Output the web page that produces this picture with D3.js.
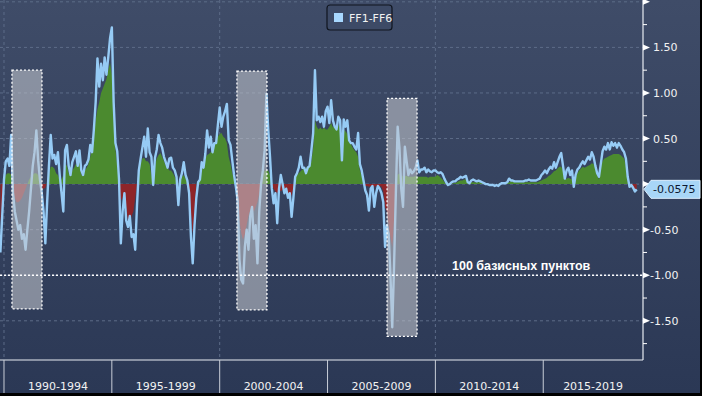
<!DOCTYPE html>
<html>
<head>
<meta charset="utf-8">
<script src="https://cdn.jsdelivr.net/npm/d3@7"></script>
<style>
  body { margin: 0; background: #000; }
  svg { display: block; }
</style>
</head>
<body>
<div id="chart"></div>
<script>
// monthly FF1-FF6 spread, Nov 1989 .. May 2019
var startYear = 1989, startMonth = 10;
var ffLine = [
  -0.75, -0.35,
  0.05, 0.25, 0.28, 0.2, 0.54, -0.1, -0.3, -0.4, -0.5, -0.45, -0.6, -0.55,
  -0.72, -0.5, -0.3, -0.05, 0.2, 0.35, 0.59, 0.26, 0.05, -0.1, -0.3, -0.65,
  -0.2, 0.2, 0.54, 0.28, 0.32, 0.22, 0.35, 0.1, -0.1, -0.3, 0.37, 0.43,
  0.2, 0.1, 0.24, 0.3, 0.36, 0.2, 0.37, 0.15, 0.1, 0.2, 0.22, 0.27,
  0.43, 0.35, 0.6, 0.9, 1.38, 1.07, 1.32, 1.14, 1.39, 1.2, 1.39, 1.6,
  1.72, 0.9, 0.45, 0.36, 0.05, -0.65, -0.3, -0.1, -0.4, -0.47, -0.35, -0.58,
  -0.55, -0.72, -0.23, 0.15, 0.28, 0.4, 0.52, 0.3, 0.61, 0.35, 0.3, -0.01,
  0.29, 0.38, 0.54, 0.45, 0.4, 0.3, 0.24, 0.18, 0.28, 0.29, 0.18, 0.15,
  0.08, -0.23, 0.05, 0.12, 0.24, 0.1, 0.04, -0.1, -0.58, -0.87, -0.45, -0.15,
  0.02, 0.05, 0.24, 0.18, 0.33, 0.59, 0.4, 0.52, 0.35, 0.45, 0.45, 0.65,
  0.84, 0.63, 0.74, 0.8, 0.88, 0.48, 0.43, 0.26, 0.1, -0.03, -0.18, -0.83,
  -1.05, -1.09, -0.69, -0.5, -0.72, -0.35, -0.25, -0.6, -0.45, -0.87, -0.3, 0.0,
  0.15, 0.37, 0.99, 0.6, 0.3, -0.05, -0.21, -0.1, -0.43, -0.05, 0.1, 0.0,
  -0.1, -0.05, -0.15, -0.1, -0.36, -0.15, 0.08, 0.12, 0.18, 0.3, 0.18, 0.18,
  0.12, 0.18, 0.2, 0.37, 0.56, 1.25, 0.7, 0.74, 0.68, 0.74, 0.63, 0.8,
  0.85, 0.67, 0.92, 0.7, 0.63, 0.6, 0.74, 0.7, 0.26, 0.71, 0.63, 0.7,
  0.48, 0.45, 0.45, 0.41, 0.38, 0.56, 0.22, 0.15, 0.04, -0.07, -0.12, -0.29,
  -0.05, -0.02, -0.25, -0.1, -0.02, -0.05, -0.1, -0.2, -0.69, -0.45, -0.55, -1.0,
  -1.57, -0.9, -0.1, 0.63, 0.4, -0.05, -0.25, 0.41, 0.25, 0.1, 0.16, 0.12,
  0.14, 0.18, 0.26, 0.13, 0.16, 0.16, 0.18, 0.13, 0.16, 0.14, 0.13, 0.15,
  0.15, 0.13, 0.12, 0.13, 0.11, 0.06, 0.02, -0.01, 0.0, 0.02, 0.03, 0.03,
  0.05, 0.06, 0.08, 0.07, 0.08, 0.09, 0.02, 0.01, 0.04, 0.05, 0.04, 0.03,
  0.04, 0.03, 0.02, 0.01, 0.0, 0.0, -0.01, -0.01, -0.01, -0.02, -0.01, -0.02,
  0.0, 0.01, 0.01, 0.01, 0.02, 0.06, 0.04, 0.04, 0.03, 0.03, 0.03, 0.03,
  0.03, 0.03, 0.04, 0.04, 0.05, 0.04, 0.04, 0.04, 0.04, 0.05, 0.06, 0.1,
  0.12, 0.15, 0.12, 0.16, 0.19, 0.17, 0.24, 0.18, 0.24, 0.3, 0.34, 0.2,
  0.06, 0.15, 0.18, 0.1, 0.15, -0.03, 0.1, 0.16, 0.18, 0.22, 0.25, 0.22,
  0.26, 0.3, 0.27, 0.35, 0.3, 0.2, 0.12, 0.08, 0.22, 0.36, 0.41, 0.38,
  0.45, 0.38, 0.46, 0.42, 0.45, 0.4, 0.45, 0.42, 0.38, 0.35, 0.28, 0.08,
  -0.03, -0.01, -0.04, -0.08, -0.0575
];
// smoother series drawn as green / red fill
var ffFill = [
  -0.43, -0.2,
  0.05, 0.1, 0.12, 0.12, 0.1, -0.05, -0.15, -0.2, -0.2, -0.18, -0.15, -0.1,
  -0.05, 0.0, 0.05, 0.08, 0.1, 0.12, 0.12, 0.1, 0.02, -0.05, -0.05, -0.04,
  0.02, 0.1, 0.19, 0.19, 0.17, 0.12, 0.1, 0.05, 0.05, 0.1, 0.22, 0.2,
  0.12, 0.08, 0.15, 0.18, 0.22, 0.2, 0.24, 0.1, 0.1, 0.15, 0.18, 0.22,
  0.3, 0.4, 0.55, 0.7, 0.82, 0.9, 1.0, 1.05, 1.1, 1.15, 1.25, 1.33,
  1.2, 0.8, 0.38, 0.2, 0.05, -0.18, -0.15, -0.1, -0.25, -0.4, -0.42, -0.35,
  -0.3, -0.15, 0.0, 0.18, 0.22, 0.28, 0.29, 0.25, 0.25, 0.22, 0.1, 0.03,
  0.2, 0.28, 0.32, 0.34, 0.3, 0.25, 0.2, 0.18, 0.15, 0.15, 0.12, 0.08,
  0.02, 0.0, 0.05, 0.08, 0.1, 0.06, 0.03, -0.05, -0.3, -0.54, -0.3, 0.0,
  0.02, 0.05, 0.15, 0.2, 0.28, 0.32, 0.33, 0.35, 0.38, 0.42, 0.48, 0.52,
  0.55, 0.56, 0.52, 0.5, 0.45, 0.3, 0.22, 0.12, 0.05, 0.0, -0.1, -0.4,
  -0.54, -0.61, -0.55, -0.45, -0.35, -0.29, -0.25, -0.3, -0.25, -0.2, -0.1, -0.05,
  0.1, 0.15, 0.15, 0.15, 0.1, 0.0, -0.05, -0.08, -0.1, -0.05, -0.08, -0.06,
  -0.1, -0.06, -0.14, -0.15, -0.12, -0.05, 0.08, 0.1, 0.12, 0.14, 0.16, 0.17,
  0.18, 0.19, 0.2, 0.25, 0.4, 0.7, 0.63, 0.6, 0.62, 0.6, 0.62, 0.6,
  0.6, 0.63, 0.67, 0.62, 0.64, 0.62, 0.65, 0.6, 0.3, 0.6, 0.58, 0.55,
  0.48, 0.44, 0.4, 0.37, 0.35, 0.3, 0.15, 0.1, 0.02, -0.02, -0.02, -0.03,
  -0.02, -0.02, -0.03, -0.02, -0.02, -0.02, -0.03, -0.08, -0.25, -0.3, -0.45, -0.58,
  -0.69, -0.4, -0.1, 0.1, 0.12, 0.1, 0.08, 0.09, 0.09, 0.08, 0.08, 0.08,
  0.08, 0.09, 0.08, 0.08, 0.08, 0.08, 0.08, 0.08, 0.07, 0.08, 0.08, 0.08,
  0.08, 0.1, 0.09, 0.07, 0.05, 0.02, 0.01, 0.0, 0.0, 0.0, 0.01, 0.01,
  0.02, 0.03, 0.04, 0.04, 0.05, 0.05, 0.03, 0.02, 0.02, 0.02, 0.02, 0.02,
  0.02, 0.02, 0.01, 0.01, 0.01, 0.0, 0.0, 0.0, 0.0, 0.0, 0.0, 0.0,
  0.01, 0.01, 0.01, 0.01, 0.01, 0.02, 0.03, 0.03, 0.02, 0.02, 0.02, 0.02,
  0.02, 0.02, 0.02, 0.02, 0.02, 0.02, 0.02, 0.02, 0.02, 0.02, 0.03, 0.04,
  0.05, 0.06, 0.07, 0.09, 0.1, 0.12, 0.14, 0.15, 0.17, 0.19, 0.19, 0.15,
  0.05, 0.06, 0.07, 0.06, 0.05, 0.02, 0.08, 0.12, 0.15, 0.17, 0.19, 0.18,
  0.19, 0.2, 0.21, 0.23, 0.22, 0.18, 0.1, 0.05, 0.2, 0.25, 0.28, 0.29,
  0.3, 0.31, 0.32, 0.33, 0.33, 0.33, 0.33, 0.32, 0.3, 0.28, 0.2, 0.02,
  -0.02, -0.01, -0.03, -0.05, -0.06
];
// shaded recession boxes
var shadeFrom = [1990.37, 2000.80, 2007.76];
var shadeTo   = [1991.76, 2002.19, 2009.15];
var shadeHigh = [1.25, 1.24, 0.94];
var shadeLow  = [-1.37, -1.38, -1.67];

var periodStarts = [1990, 1995, 2000, 2005, 2010, 2015];
var periodLabels = ["1990-1994", "1995-1999", "2000-2004", "2005-2009", "2010-2014", "2015-2019"];
var decadeGrid = [1990, 2000, 2010];
var yMajor = [2, 1.5, 1, 0.5, 0, -0.5, -1, -1.5];
var yMinor = [1.75, 1.25, 0.75, 0.25, -0.25, -0.75, -1.25, -1.75];
var lastValue = -0.0575;
var refLevel = -1;
var refLabel = "100 базисных пунктов";
var seriesName = "FF1-FF6";

var W = 702, H = 396, plotW = 643, plotH = 360;

var svg = d3.select("#chart").append("svg")
  .attr("width", W).attr("height", H);

var defs = svg.append("defs");
var grad = defs.append("linearGradient").attr("id", "bg")
  .attr("x1", 0).attr("y1", 0).attr("x2", 0).attr("y2", 1);
grad.append("stop").attr("offset", "0%").attr("stop-color", "#3f4c68");
grad.append("stop").attr("offset", "100%").attr("stop-color", "#2b3855");

svg.append("rect").attr("width", 700).attr("height", 393).attr("fill", "url(#bg)");

var x = d3.scaleLinear().domain([1989.815, 2019.625]).range([0, plotW]);
var y = d3.scaleLinear().domain([2.02, -1.93]).range([0, plotH]);

function monthYear(i) { return startYear + (startMonth + i) / 12; }

// grid
svg.append("g").selectAll("line").data(yMajor).enter().append("line")
  .attr("x1", 0).attr("x2", plotW)
  .attr("y1", function (d) { return y(d); }).attr("y2", function (d) { return y(d); })
  .attr("stroke", "#5d6c88").attr("stroke-dasharray", "3,3");
svg.append("g").selectAll("line").data(decadeGrid).enter().append("line")
  .attr("x1", function (d) { return x(d); }).attr("x2", function (d) { return x(d); })
  .attr("y1", 0).attr("y2", plotH)
  .attr("stroke", "#5d6c88").attr("stroke-dasharray", "3,3");

// fill areas (green above zero, red below)
defs.append("clipPath").attr("id", "above").append("rect")
  .attr("x", 0).attr("y", 0).attr("width", plotW).attr("height", y(0));
defs.append("clipPath").attr("id", "below").append("rect")
  .attr("x", 0).attr("y", y(0)).attr("width", plotW).attr("height", plotH - y(0));

var area = d3.area()
  .x(function (d, i) { return x(monthYear(i)); })
  .y0(y(0))
  .y1(function (d) { return y(d); });

svg.append("path").datum(ffFill).attr("d", area)
  .attr("fill", "#4b8a2f").attr("clip-path", "url(#above)");
svg.append("path").datum(ffFill).attr("d", area)
  .attr("fill", "#8e2529").attr("clip-path", "url(#below)");

var line = d3.line()
  .x(function (d, i) { return x(monthYear(i)); })
  .y(function (d) { return y(d); });

svg.append("path").datum(ffLine).attr("d", line)
  .attr("fill", "none").attr("stroke", "#96cbf5")
  .attr("stroke-width", 2.4).attr("stroke-linejoin", "round");

// shaded boxes
svg.append("g").selectAll("rect").data(shadeFrom).enter().append("rect")
  .attr("x", function (d) { return x(d); })
  .attr("width", function (d, i) { return x(shadeTo[i]) - x(d); })
  .attr("y", function (d, i) { return y(shadeHigh[i]); })
  .attr("height", function (d, i) { return y(shadeLow[i]) - y(shadeHigh[i]); })
  .attr("fill", "rgba(195,198,205,0.58)")
  .attr("stroke", "#fff").attr("stroke-width", 1.3).attr("stroke-dasharray", "2,2");

// reference line
svg.append("line")
  .attr("x1", 0).attr("x2", plotW).attr("y1", y(refLevel)).attr("y2", y(refLevel))
  .attr("stroke", "#fff").attr("stroke-width", 1.4).attr("stroke-dasharray", "2,2");
svg.append("text").attr("x", 452).attr("y", y(refLevel) - 5)
  .attr("fill", "#fff").attr("font-family", "Liberation Sans, Arial, sans-serif")
  .attr("font-weight", "bold").attr("font-size", 12.5).text(refLabel);

// right axis
svg.append("line").attr("x1", plotW).attr("x2", plotW).attr("y1", 0).attr("y2", plotH)
  .attr("stroke", "#e8ecf2").attr("stroke-width", 1.2);
svg.append("g").selectAll("path").data(yMajor).enter().append("path")
  .attr("d", function (d) { var t = y(d); return "M" + plotW + "," + (t - 3) + "L" + (plotW + 7) + "," + t + "L" + plotW + "," + (t + 3) + "Z"; })
  .attr("fill", "#fff");
svg.append("g").selectAll("line").data(yMinor).enter().append("line")
  .attr("x1", plotW).attr("x2", plotW + 4)
  .attr("y1", function (d) { return y(d); }).attr("y2", function (d) { return y(d); })
  .attr("stroke", "#fff");
svg.append("g").selectAll("text").data(yMajor.filter(function (d) { return d !== 2 && d !== 0; }))
  .enter().append("text")
  .attr("x", function (d) { return d < 0 ? 650 : 653; })
  .attr("y", function (d) { return y(d) + 4; })
  .attr("fill", "#f2f2f2").attr("font-family", "DejaVu Sans, sans-serif").attr("font-size", 11)
  .text(function (d) { return d3.format(".2f")(d).replace("−", "-"); });

// last value tag
var ly = y(lastValue);
svg.append("path")
  .attr("d", "M" + (plotW + 1) + "," + ly + "L" + (plotW + 8) + "," + (ly - 9) + "L700," + (ly - 9) + "L700," + (ly + 9) + "L" + (plotW + 8) + "," + (ly + 9) + "Z")
  .attr("fill", "#a8d6f7").attr("stroke", "#dcefff").attr("stroke-width", 1);
svg.append("text").attr("x", 653).attr("y", ly + 4)
  .attr("fill", "#0c1830").attr("font-family", "DejaVu Sans, sans-serif").attr("font-size", 11)
  .text(d3.format(".4f")(lastValue).replace("−", "-"));

// bottom period band
svg.append("line").attr("x1", 0).attr("x2", plotW).attr("y1", plotH).attr("y2", plotH)
  .attr("stroke", "#e8ecf2").attr("stroke-width", 1.2);
svg.append("g").selectAll("line").data(periodStarts).enter().append("line")
  .attr("x1", function (d) { return x(d); }).attr("x2", function (d) { return x(d); })
  .attr("y1", plotH).attr("y2", 393)
  .attr("stroke", "#c9ced8");
svg.append("g").selectAll("text").data(periodStarts).enter().append("text")
  .attr("x", function (d) { return (x(d) + Math.min(x(d + 5), plotW)) / 2; })
  .attr("y", 390)
  .attr("text-anchor", "middle")
  .attr("fill", "#f2f2f2").attr("font-family", "DejaVu Sans, sans-serif").attr("font-size", 11)
  .text(function (d, i) { return periodLabels[i]; });

// legend
var lg = svg.append("g");
lg.append("rect").attr("x", 327).attr("y", 5).attr("width", 65).attr("height", 25).attr("rx", 3)
  .attr("fill", "#3d4a66").attr("stroke", "#10151f").attr("stroke-width", 1.2);
lg.append("rect").attr("x", 334).attr("y", 13).attr("width", 9).attr("height", 9).attr("fill", "#a8d8ff");
lg.append("text").attr("x", 349).attr("y", 22)
  .attr("fill", "#f2f2f2").attr("font-family", "DejaVu Sans, sans-serif").attr("font-size", 11)
  .text(seriesName);
</script>
</body>
</html>
